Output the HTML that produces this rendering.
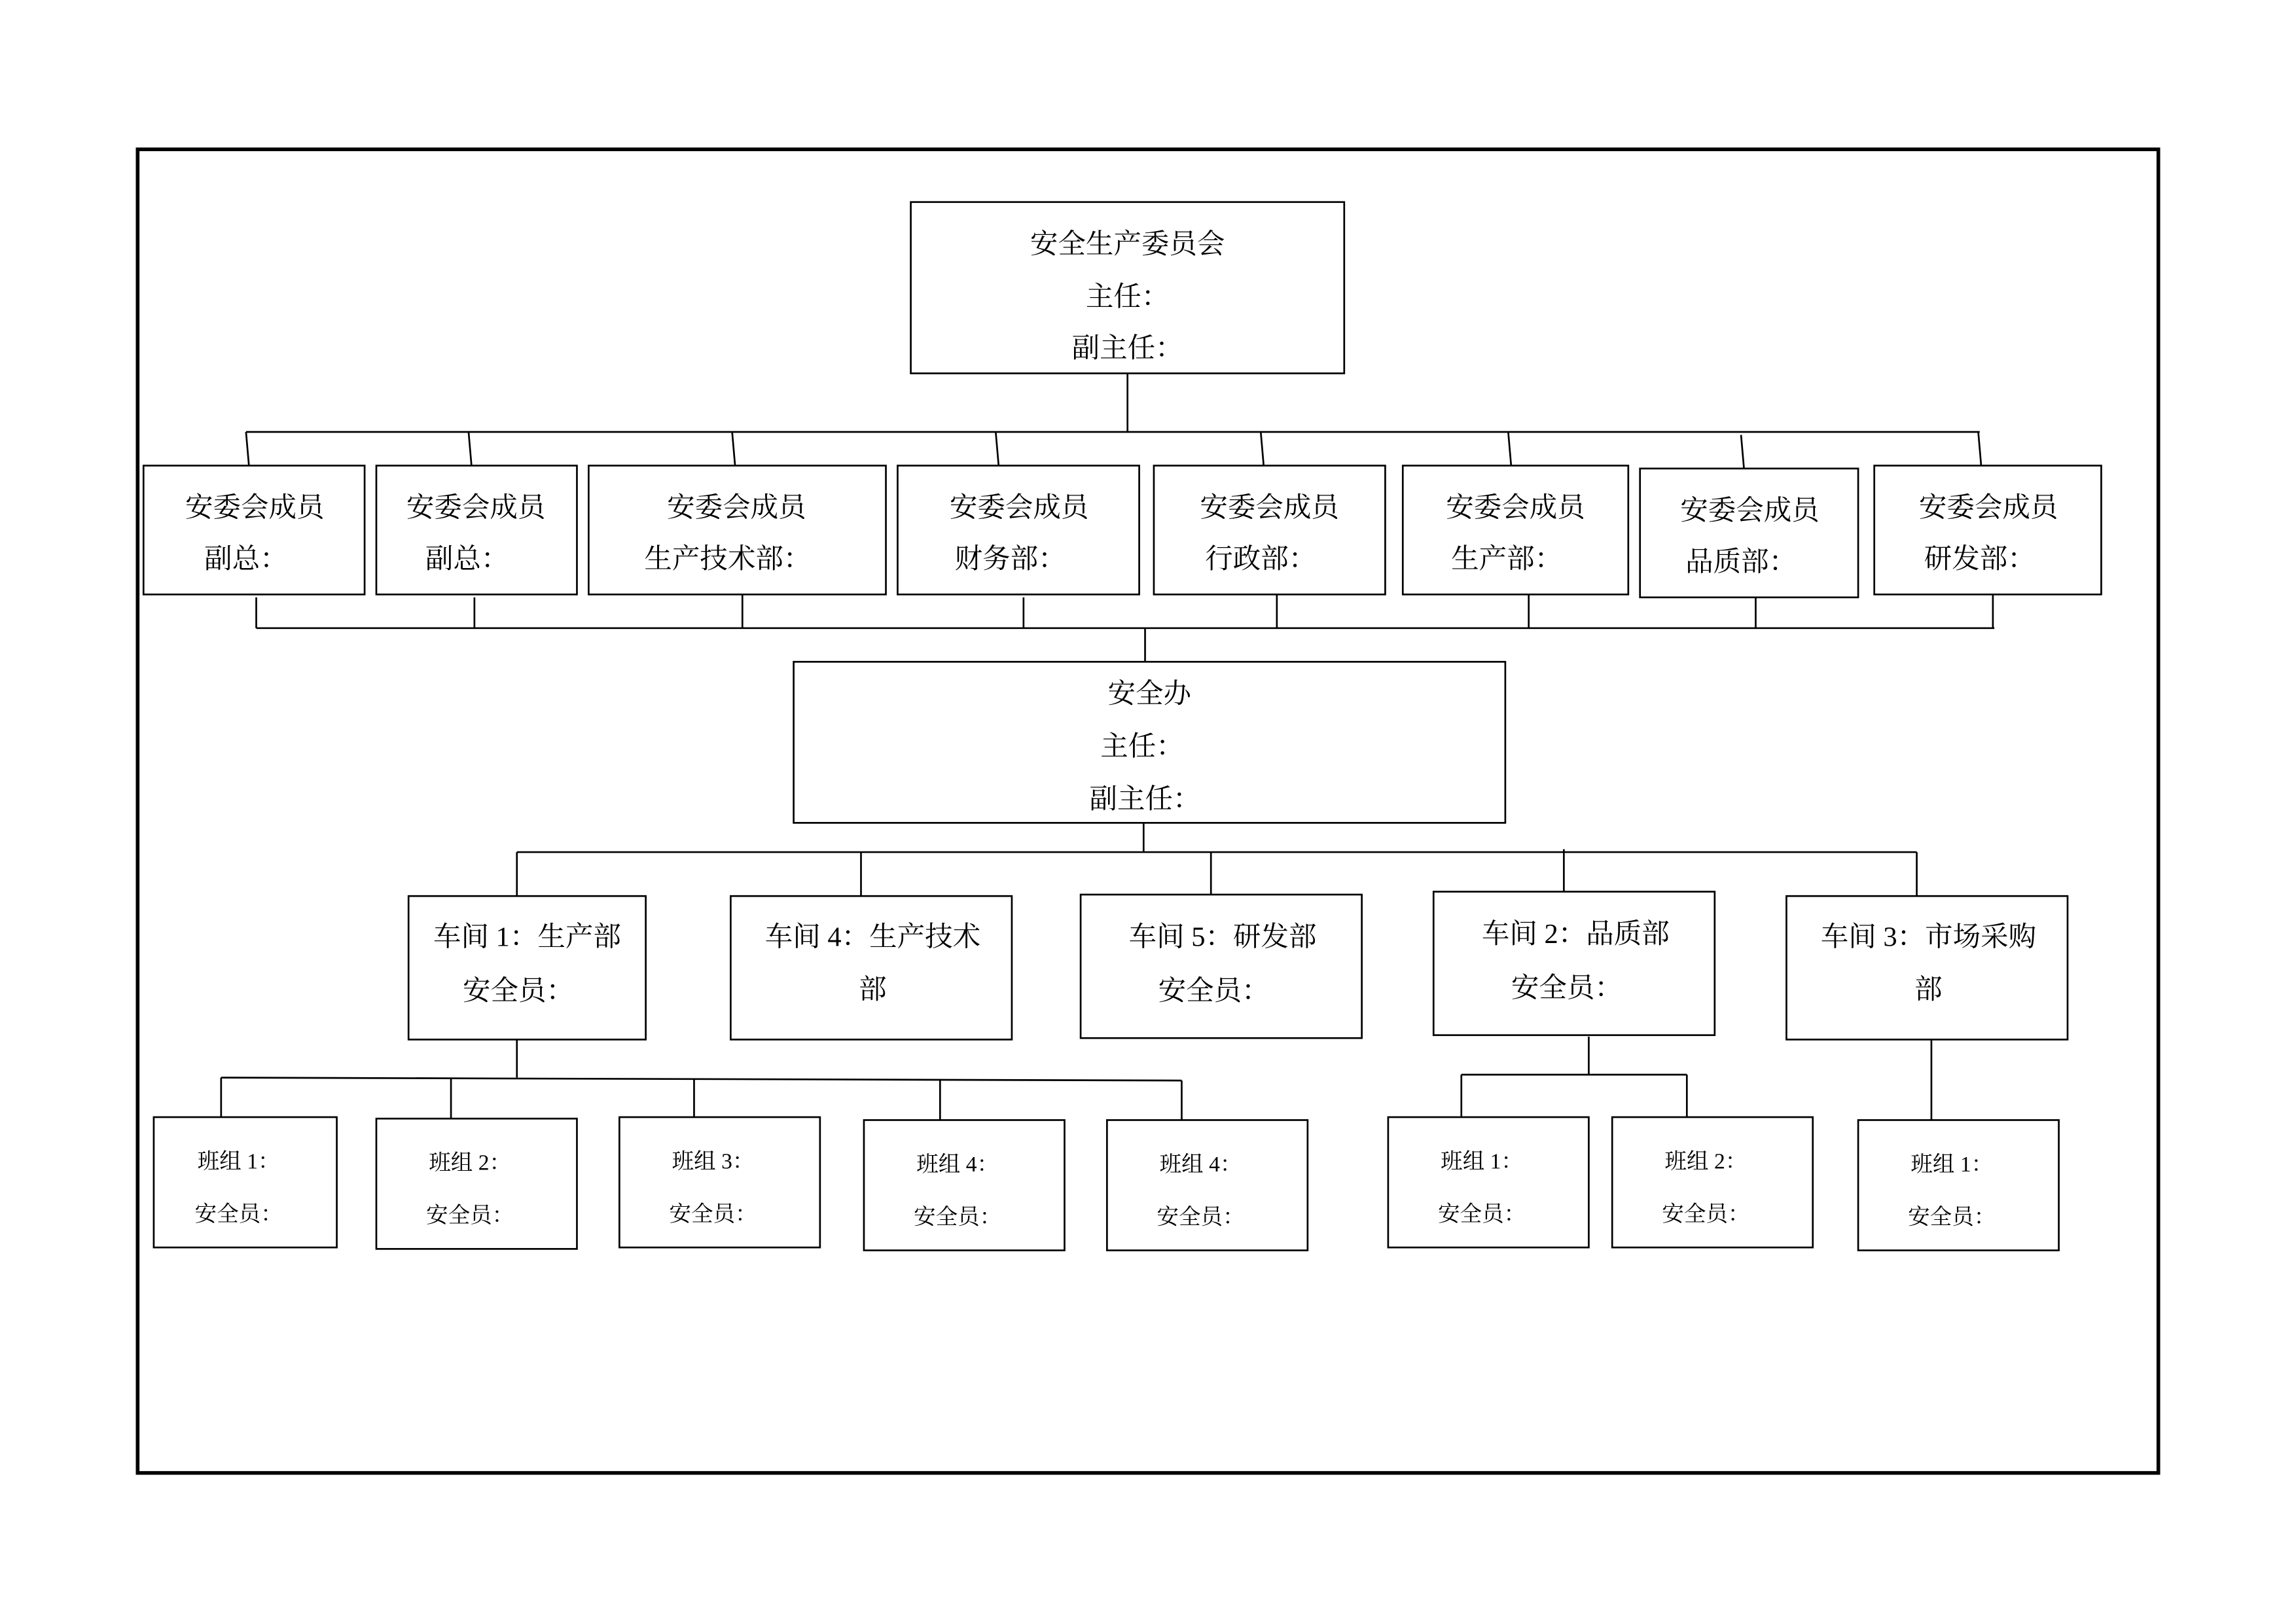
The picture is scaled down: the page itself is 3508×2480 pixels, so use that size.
<!DOCTYPE html>
<html><head><meta charset="utf-8"><style>
html,body{margin:0;padding:0;background:#fff;}
svg{display:block;}
text{font-family:"Liberation Serif","Noto Serif CJK SC",serif;fill:#000;text-anchor:middle;}
.b{font-size:19px;}
.s{font-size:15px;}
</style></head><body>
<svg width="3508" height="2480" viewBox="0 0 1568 1108.5" preserveAspectRatio="none" xmlns="http://www.w3.org/2000/svg">
<rect x="0" y="0" width="1568" height="1108.5" fill="#fff"/>
<rect x="94" y="102" width="1380" height="904" fill="none" stroke="#000" stroke-width="2.5"/>
<g fill="none" stroke="#000" stroke-width="1.2">
<rect x="622" y="138" width="296" height="117"/>
<line x1="770" y1="255" x2="770" y2="295"/>
<line x1="168" y1="295" x2="1352" y2="295"/>
<line x1="168" y1="295" x2="170" y2="318"/>
<line x1="320" y1="295" x2="322" y2="318"/>
<line x1="500" y1="295" x2="502" y2="318"/>
<line x1="680" y1="295" x2="682" y2="318"/>
<line x1="861" y1="295" x2="863" y2="318"/>
<line x1="1030" y1="295" x2="1032" y2="318"/>
<line x1="1189" y1="297" x2="1191" y2="320"/>
<line x1="1351" y1="295" x2="1353" y2="318"/>
<rect x="98" y="318" width="151" height="88"/>
<rect x="257" y="318" width="137" height="88"/>
<rect x="402" y="318" width="203" height="88"/>
<rect x="613" y="318" width="165" height="88"/>
<rect x="788" y="318" width="158" height="88"/>
<rect x="958" y="318" width="154" height="88"/>
<rect x="1120" y="320" width="149" height="88"/>
<rect x="1280" y="318" width="155" height="88"/>
<line x1="175" y1="429" x2="1362" y2="429"/>
<line x1="175" y1="408" x2="175" y2="429"/>
<line x1="324" y1="408" x2="324" y2="429"/>
<line x1="507" y1="406" x2="507" y2="429"/>
<line x1="699" y1="408" x2="699" y2="429"/>
<line x1="872" y1="406" x2="872" y2="429"/>
<line x1="1044" y1="406" x2="1044" y2="429"/>
<line x1="1199" y1="408" x2="1199" y2="429"/>
<line x1="1361" y1="406" x2="1361" y2="429"/>
<line x1="782" y1="429" x2="782" y2="452"/>
<rect x="542" y="452" width="486" height="110"/>
<line x1="781" y1="562" x2="781" y2="582"/>
<line x1="353" y1="582" x2="1309" y2="582"/>
<line x1="353" y1="582" x2="353" y2="612"/>
<line x1="588" y1="582" x2="588" y2="612"/>
<line x1="827" y1="582" x2="827" y2="611"/>
<line x1="1068" y1="580" x2="1068" y2="609"/>
<line x1="1309" y1="582" x2="1309" y2="612"/>
<rect x="279" y="612" width="162" height="98"/>
<rect x="499" y="612" width="192" height="98"/>
<rect x="738" y="611" width="192" height="98"/>
<rect x="979" y="609" width="192" height="98"/>
<rect x="1220" y="612" width="192" height="98"/>
<line x1="353" y1="710" x2="353" y2="736"/>
<line x1="151" y1="736" x2="807" y2="738"/>
<line x1="151" y1="736" x2="151" y2="763"/>
<line x1="308" y1="736" x2="308" y2="764"/>
<line x1="474" y1="737" x2="474" y2="763"/>
<line x1="642" y1="737" x2="642" y2="765"/>
<line x1="807" y1="738" x2="807" y2="765"/>
<rect x="105" y="763" width="125" height="89"/>
<rect x="257" y="764" width="137" height="89"/>
<rect x="423" y="763" width="137" height="89"/>
<rect x="590" y="765" width="137" height="89"/>
<rect x="756" y="765" width="137" height="89"/>
<line x1="1085" y1="708" x2="1085" y2="734"/>
<line x1="998" y1="734" x2="1152" y2="734"/>
<line x1="998" y1="734" x2="998" y2="763"/>
<line x1="1152" y1="734" x2="1152" y2="763"/>
<rect x="948" y="763" width="137" height="89"/>
<rect x="1101" y="763" width="137" height="89"/>
<line x1="1319" y1="710" x2="1319" y2="765"/>
<rect x="1269" y="765" width="137" height="89"/>
</g>
<g class="b">
<text x="770" y="173">安全生产委员会</text>
<text x="770" y="209">主任：</text>
<text x="770" y="244">副主任：</text>
<text x="174" y="353">安委会成员</text><text x="168" y="388">副总：</text>
<text x="325" y="353">安委会成员</text><text x="319" y="388">副总：</text>
<text x="503" y="353">安委会成员</text><text x="497" y="388">生产技术部：</text>
<text x="696" y="353">安委会成员</text><text x="690" y="388">财务部：</text>
<text x="867" y="353">安委会成员</text><text x="861" y="388">行政部：</text>
<text x="1035" y="353">安委会成员</text><text x="1029" y="388">生产部：</text>
<text x="1195" y="355">安委会成员</text><text x="1189" y="390">品质部：</text>
<text x="1358" y="353">安委会成员</text><text x="1352" y="388">研发部：</text>
<text x="785" y="480">安全办</text>
<text x="780" y="516">主任：</text>
<text x="782" y="552">副主任：</text>
<text x="360" y="646">车间 1：生产部</text><text x="354" y="683">安全员：</text>
<text x="596" y="646">车间 4：生产技术</text><text x="596" y="682">部</text>
<text x="835" y="646">车间 5：研发部</text><text x="829" y="683">安全员：</text>
<text x="1076" y="644">车间 2：品质部</text><text x="1070" y="681">安全员：</text>
<text x="1317" y="646">车间 3：市场采购</text><text x="1317" y="682">部</text>
</g>
<g class="s">
<text x="163" y="798">班组 1：</text><text x="163" y="834">安全员：</text>
<text x="321" y="799">班组 2：</text><text x="321" y="835">安全员：</text>
<text x="487" y="798">班组 3：</text><text x="487" y="834">安全员：</text>
<text x="654" y="800">班组 4：</text><text x="654" y="836">安全员：</text>
<text x="820" y="800">班组 4：</text><text x="820" y="836">安全员：</text>
<text x="1012" y="798">班组 1：</text><text x="1012" y="834">安全员：</text>
<text x="1165" y="798">班组 2：</text><text x="1165" y="834">安全员：</text>
<text x="1333" y="800">班组 1：</text><text x="1333" y="836">安全员：</text>
</g>
</svg>
</body></html>
